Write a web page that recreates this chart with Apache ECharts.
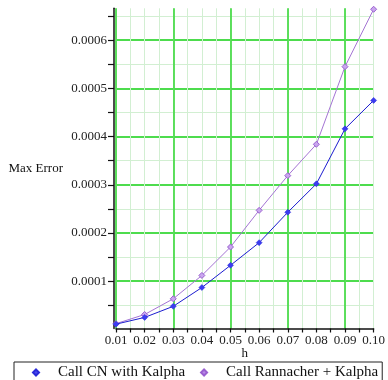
<!DOCTYPE html>
<html>
<head>
<meta charset="utf-8">
<style>html,body{margin:0;padding:0;background:#fff;}#c{width:388px;height:380px;}</style>
<script src="https://cdn.jsdelivr.net/npm/echarts@6/dist/echarts.min.js"></script>
</head>
<body>
<div id="c"></div>
<script>
var hValues = [0.01, 0.02, 0.03, 0.04, 0.05, 0.06, 0.07, 0.08, 0.09, 0.10];
var cnValues = [0.000011, 0.000025, 0.000048, 0.000087, 0.000133, 0.000180, 0.000243, 0.000302, 0.000416, 0.000475];
var rannValues = [0.000012, 0.000031, 0.0000636, 0.000112, 0.000171, 0.000247, 0.000319, 0.000384, 0.000545, 0.000664];
var yMajorTicks = [0.0001, 0.0002, 0.0003, 0.0004, 0.0005, 0.0006];
var yMinorTicks = [0.00005, 0.0001, 0.00015, 0.0002, 0.00025, 0.0003, 0.00035, 0.0004, 0.00045, 0.0005, 0.00055, 0.0006, 0.00065];
var xMajorLines = [0.01, 0.03, 0.05, 0.07, 0.09];
var seriesNames = ['Call CN with Kalpha', 'Call Rannacher + Kalpha'];

var FONT = 'Liberation Serif';
var bright = '#4ddc4d';
var light = '#d2efd2';
var yMin = 0.000002, yMax = 0.000666;

function pairs(xs, ys) { return xs.map(function (x, i) { return [x, ys[i]]; }); }

var chart = echarts.init(document.getElementById('c'), null, {renderer: 'canvas'});
chart.setOption({
  animation: false,
  backgroundColor: '#fff',
  grid: {left: 116, right: 9.5, top: 8.3, bottom: 51.5, containLabel: false},
  legend: {
    left: 14, top: 362,
    padding: [3, 4, 5, 18],
    itemGap: 15,
    itemWidth: 6, itemHeight: 6,
    borderColor: '#222', borderWidth: 1,
    backgroundColor: '#fff',
    textStyle: {fontFamily: FONT, fontSize: 15, color: '#111', padding: [0, 0, 0, 14]},
    data: [
      {name: seriesNames[0], icon: 'diamond', itemStyle: {color: '#4a4af0'}},
      {name: seriesNames[1], icon: 'diamond', itemStyle: {color: '#b98ae8'}}
    ]
  },
  xAxis: [{
    type: 'value', min: 0.01, max: 0.1, interval: 0.005,
    name: 'h', nameLocation: 'middle', nameGap: 19, nameMoveOverlap: false,
    nameTextStyle: {fontFamily: FONT, fontSize: 13, color: '#111', lineHeight: 13},
    axisLine: {show: true, onZero: false, lineStyle: {color: '#111', width: 1.5}},
    axisTick: {show: true, length: 4, lineStyle: {color: '#111', width: 1.2}},
    axisLabel: {
      fontFamily: FONT, fontSize: 13, color: '#222', margin: 6,
      formatter: function (v) {
        var k = Math.round(v * 1000);
        return (k % 10 === 0) ? v.toFixed(2) : '';
      }
    },
    splitLine: {show: true, lineStyle: {color: light, width: 1}}
  }, {
    type: 'value', min: 0.01, max: 0.1, position: 'bottom',
    axisLine: {show: false}, axisLabel: {show: false},
    axisTick: {show: false, customValues: xMajorLines},
    splitLine: {show: true, lineStyle: {color: bright, width: 1.8}}
  }],
  yAxis: [{
    type: 'value', min: yMin, max: yMax, offset: 2,
    name: 'Max Error', nameLocation: 'middle', nameRotate: 0, nameGap: 51, nameMoveOverlap: false,
    nameTextStyle: {fontFamily: FONT, fontSize: 13, color: '#111', align: 'right'},
    axisLine: {show: true, onZero: false, lineStyle: {color: '#111', width: 1.5}},
    axisTick: {show: true, length: 6, customValues: yMinorTicks, lineStyle: {color: '#111', width: 1.2}},
    axisLabel: {
      fontFamily: FONT, fontSize: 13, color: '#222', margin: 7,
      customValues: yMajorTicks,
      formatter: function (v) { return v.toFixed(4); }
    },
    splitLine: {show: true, lineStyle: {color: light, width: 1}}
  }, {
    type: 'value', min: yMin, max: yMax, position: 'left',
    axisLine: {show: false}, axisLabel: {show: false},
    axisTick: {show: false, customValues: yMajorTicks},
    splitLine: {show: true, lineStyle: {color: bright, width: 1.8}}
  }],
  series: [{
    name: seriesNames[0], type: 'line', xAxisIndex: 0, yAxisIndex: 0,
    data: pairs(hValues, cnValues),
    symbol: 'diamond', symbolSize: 6,
    lineStyle: {color: '#1c1cd0', width: 1},
    itemStyle: {color: '#3c3cf0', borderColor: '#2a2ad8', borderWidth: 0.5},
    z: 5
  }, {
    name: seriesNames[1], type: 'line', xAxisIndex: 0, yAxisIndex: 0,
    data: pairs(hValues, rannValues),
    symbol: 'diamond', symbolSize: 6,
    lineStyle: {color: '#a474d4', width: 1},
    itemStyle: {color: '#c9a6ee', borderColor: '#9a60d0', borderWidth: 1},
    z: 4
  }]
});
</script>
</body>
</html>
